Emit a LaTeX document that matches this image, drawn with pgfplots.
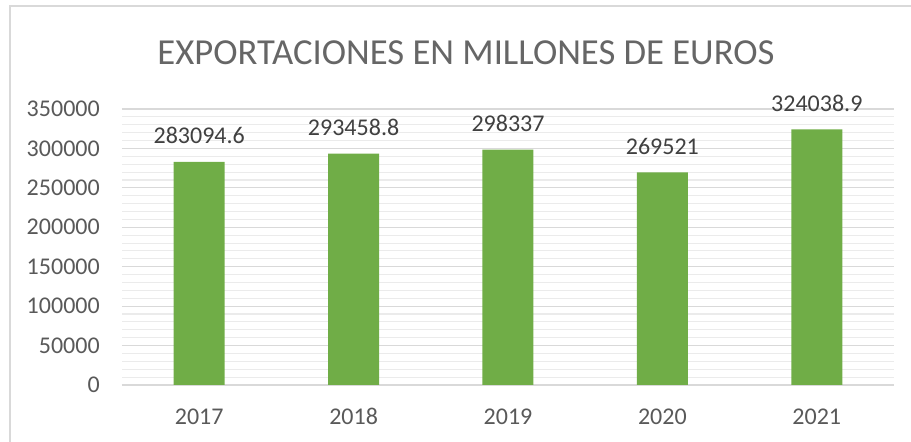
\documentclass[border=0pt]{standalone}
\usepackage{pgfplots}
\pgfplotsset{compat=1.18}
\usepackage{pgfplotstable}
\usepackage{fontspec}
\setmainfont{Carlito}
\definecolor{barg}{HTML}{70AD47}
\definecolor{grid1}{HTML}{D9D9D9}
\definecolor{grid2}{HTML}{EBEBEB}
\definecolor{txt}{HTML}{595959}
\definecolor{ttl}{HTML}{666666}
\definecolor{lab}{HTML}{404040}
\pgfplotstableread{
x y lab
0 283094.6 283094.6
1 293458.8 293458.8
2 298337 298337
3 269521 269521
4 324038.9 324038.9
}\datatab
\begin{document}
\begin{tikzpicture}
\useasboundingbox (0pt,0pt) rectangle (683.25pt,331.5pt);
\draw[grid1, line width=1.2pt] (7.5pt,0pt) -- (7.5pt,327pt) -- (683.25pt,327pt);
\node[ttl, font=\fontsize{27.5}{32}\selectfont] at (349.5pt,291.75pt) {EXPORTACIONES EN MILLONES DE EUROS};
\begin{axis}[
  at={(91.5pt,42.75pt)}, anchor=south west,
  scale only axis, width=579pt, height=207pt,
  xmin=-0.5, xmax=4.5, ymin=0, ymax=350000,
  xtick=data, xticklabels={2017,2018,2019,2020,2021},
  ytick={0,50000,100000,150000,200000,250000,300000,350000},
  yticklabel={\pgfmathtruncatemacro\tv{\tick}\tv},
  minor y tick num=4,
  ymajorgrids, yminorgrids,
  major grid style={grid1, line width=0.8pt},
  minor grid style={grid2, line width=0.8pt},
  axis x line*=bottom, axis y line*=left,
  x axis line style={grid1, line width=1pt, -},
  y axis line style={draw=none},
  major tick length=0pt, minor tick length=0pt,
  tick style={draw=none},
  scaled y ticks=false,
  yticklabel style={anchor=east, inner sep=0pt, xshift=-16.5pt, txt, font=\fontsize{18}{20}\selectfont},
  xticklabel style={anchor=north, inner sep=0pt, text height=11.4pt, text depth=0pt, yshift=-18.3pt, txt, font=\fontsize{18}{20}\selectfont},
  ybar, bar width=38.25pt,
  nodes near coords,
  point meta=explicit symbolic,
  every node near coord/.append style={anchor=south, inner sep=0pt, yshift=13.25pt, lab, font=\fontsize{18}{20}\selectfont},
  clip=false,
]
\addplot[fill=barg, draw=none, bar shift=0pt] table[x=x, y=y, meta=lab] {\datatab};
\end{axis}
\end{tikzpicture}
\end{document}
